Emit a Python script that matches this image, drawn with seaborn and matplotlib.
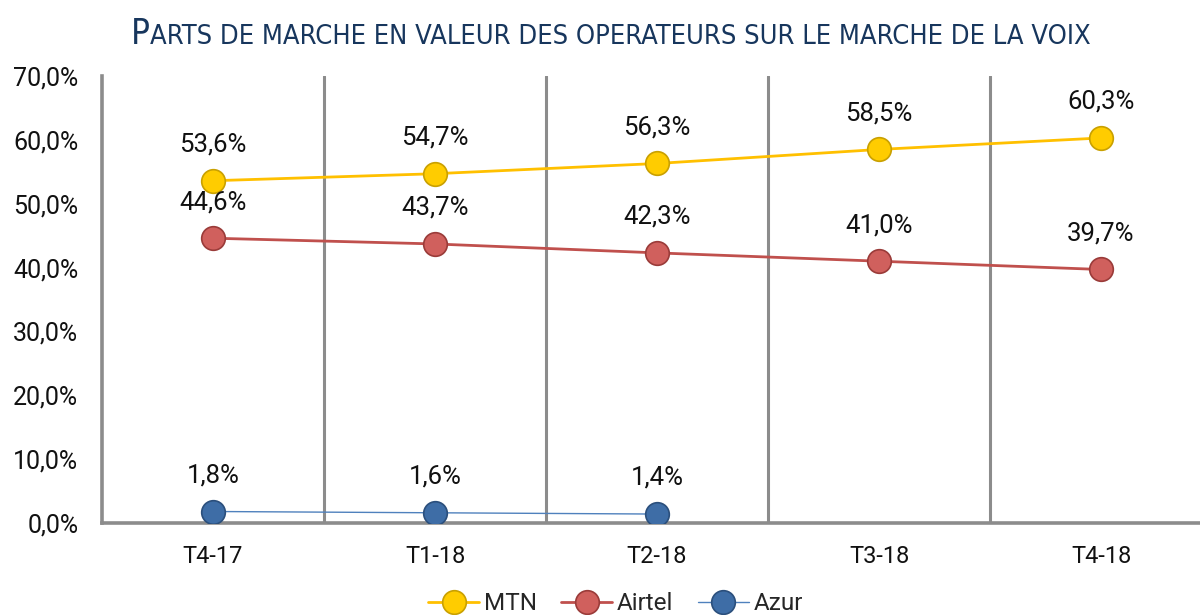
import numpy as np
import pandas as pd
import seaborn as sns
import matplotlib.pyplot as plt
from matplotlib.lines import Line2D
from matplotlib.offsetbox import TextArea, HPacker, AnchoredOffsetbox

quarters = ['T4-17', 'T1-18', 'T2-18', 'T3-18', 'T4-18']
mtn = [53.6, 54.7, 56.3, 58.5, 60.3]
airtel = [44.6, 43.7, 42.3, 41.0, 39.7]
azur = [1.8, 1.6, 1.4, np.nan, np.nan]

series = {'MTN': mtn, 'Airtel': airtel, 'Azur': azur}
styles = {
    'MTN': dict(color='#FFC000', mfc='#FFCC00', mec='#C9A000', lw=2.0),
    'Airtel': dict(color='#C0504D', mfc='#D0605D', mec='#9A3B39', lw=2.0),
    'Azur': dict(color='#4F81BD', mfc='#3E6DA6', mec='#2B4F7C', lw=1.0),
}

sns.set_style('white')
plt.rcParams['font.family'] = ['Roboto', 'DejaVu Sans']

fig = plt.figure(figsize=(12, 6.15), dpi=100)
ax = fig.add_axes([0.085, 0.1496, 0.925, 0.7268])

df = pd.DataFrame({'quarter': quarters, **series})
for name, vals in series.items():
    st = styles[name]
    sns.lineplot(data=df, x='quarter', y=name, ax=ax, color=st['color'], lw=st['lw'],
                 marker='o', markersize=17, markerfacecolor=st['mfc'],
                 markeredgecolor=st['mec'], markeredgewidth=1.2, zorder=3)
    for i, v in enumerate(vals):
        if np.isnan(v):
            continue
        ax.annotate(f'{v:.1f}%'.replace('.', ','), (i, v), xytext=(0, 26),
                    textcoords='offset points', ha='center', va='center',
                    fontsize=18.5, color='#111111')

ax.set_xlim(-0.5, 4.5)
ax.set_ylim(0, 70)
ax.set_yticks(np.arange(0, 71, 10))
ax.set_yticklabels([f'{t:.1f}%'.replace('.', ',') for t in np.arange(0, 71, 10)])
ax.set_xticks(range(5))
ax.set_xticklabels(quarters)
ax.set_xticks(np.arange(0.5, 4.5, 1), minor=True)
ax.grid(False)
ax.grid(True, which='minor', axis='x', color='#8C8C8C', lw=2.2)
ax.tick_params(axis='both', which='both', length=0, colors='#111111')
ax.tick_params(axis='y', pad=17, labelsize=18)
ax.tick_params(axis='x', pad=16, labelsize=17)
ax.set_xlabel('')
ax.set_ylabel('')
for side in ['top', 'right']:
    ax.spines[side].set_visible(False)
for side in ['left', 'bottom']:
    ax.spines[side].set_color('#8C8C8C')
    ax.spines[side].set_linewidth(2.6)

# small-caps style title
tcolor = '#17365D'
big = TextArea('P', textprops=dict(fontsize=25, color=tcolor, fontstretch='condensed',
                                   family='DejaVu Sans'))
small = TextArea('ARTS DE MARCHE EN VALEUR DES OPERATEURS SUR LE MARCHE DE LA VOIX',
                 textprops=dict(fontsize=19.5, color=tcolor, fontstretch='condensed',
                                family='DejaVu Sans'))
pack = HPacker(children=[big, small], align='baseline', pad=0, sep=0)
title = AnchoredOffsetbox(loc='center', child=pack, frameon=False,
                          bbox_to_anchor=(0.509, 0.945), bbox_transform=fig.transFigure)
fig.add_artist(title)

handles = [Line2D([], [], color=styles[n]['color'], lw=styles[n]['lw'], marker='o',
                  markersize=17, markerfacecolor=styles[n]['mfc'],
                  markeredgecolor=styles[n]['mec'], markeredgewidth=1.2)
           for n in series]
fig.legend(handles, list(series), loc='center', bbox_to_anchor=(0.513, 0.018),
           ncol=3, frameon=False, fontsize=17.5, handlelength=2.1, handletextpad=0.2,
           columnspacing=1.0)

fig.savefig('out.png', dpi=100)
